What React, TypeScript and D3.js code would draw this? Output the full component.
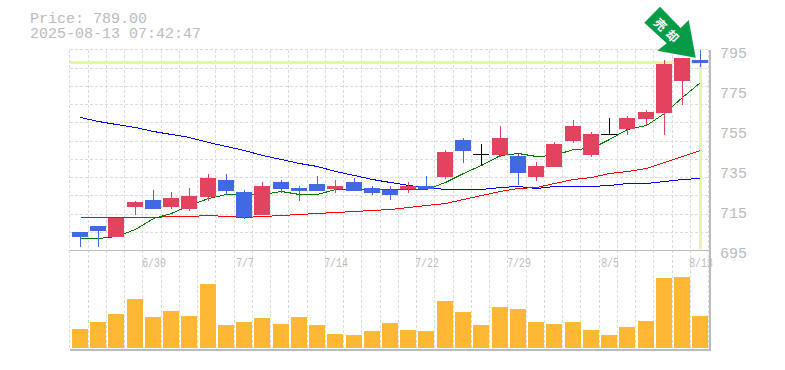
import React from "react";
import * as d3 from "d3";

const priceTicks = [795, 775, 755, 735, 715, 695];
const dateLabels: [number, string][] = [[4, "6/30"], [9, "7/7"], [14, "7/14"], [19, "7/22"], [24, "7/29"], [29, "8/5"], [34, "8/13"]];
const opens = [704.25,707.25,701.75,716.75,720.25,716.75,715.75,721.75,730.25,724.25,712.75,729.25,726.25,728.25,725.75,729.25,726.25,725.25,725.75,727.25,731.75,750.25,743.25,742.75,742.25,731.75,736.75,749.75,742.75,753.25,755.75,760.75,763.75,779.75,790.25];
const closes = [701.75,704.75,711.4,719.25,715.75,721.25,722.25,731.25,724.75,711.6,727.25,725.75,724.75,724.75,727.25,724.75,723.75,722.75,727.25,725.75,744.25,744.75,743.25,751.25,733.75,737.25,748.25,757.25,753.25,753.25,761.25,764.25,788.25,791.25,788.75];
const highs = [704.25,707.25,711.4,719.75,725.25,724.25,726.25,733.25,733.25,725.25,729.25,730.25,727.25,732.25,730.25,731.25,727.25,727.25,729.25,732.25,745.25,751.25,748.25,757.25,743.25,739.25,749.25,760.25,754.25,761.25,762.25,765.25,790.25,791.25,795.25];
const lows = [696.9,696.9,701.75,712.75,715.75,715.75,714.75,719.75,722.75,710.75,712.75,723.75,719.75,724.75,723.75,724.75,722.75,720.25,723.75,725.75,730.75,738.75,737.75,741.75,727.75,729.75,736.75,748.75,741.75,753.25,752.75,757.75,752.75,767.75,786.75];
const volumes = [19,26,34,49,31,37,32,64,23,26,30,24,31,23,14,13,17,25,18,17,47,36,23,41,39,26,24,26,18,13,21,27,70,71,32];
const maShort = [701.1,701.1,702.4,705.75,711.25,713.9,717.75,721.4,723.1,723.1,723.25,724.75,723.25,723.1,725.75,725.6,725.75,725.75,725.75,725.75,729.4,733.75,737.75,742.75,743.6,742.25,742.75,745.6,746.25,750.75,755.75,757.75,763.75,771.75,779.25];
const maMid = [711.6,711.6,711.6,711.6,711.6,712.1,712.1,712.6,712.1,711.6,712.1,712.6,713.1,713.6,714.1,714.6,715.1,715.6,716.6,717.75,718.75,720.6,722.75,724.75,726.25,726.9,728.9,730.75,731.9,733.75,734.9,736.4,739.1,742.4,745.1];
const maLong = [761.6,760,758.5,756.75,755,753.25,751.75,749.25,747.25,745.1,742.75,740.5,739,737.25,734.75,732.75,731,729.5,727.75,726.75,725.75,725.6,725.6,726.6,727.1,726.4,727.1,727.1,727.4,727.9,728.6,728.6,729.75,730.75,731.1];
const titleLines = ["Price: 789.00", "2025-08-13 07:42:47"];
const badgeText = "売却";

const RED = "#e2445f", BLUE = "#4169e1", GREY = "#bbbbbb", GRID = "#dcdcdc", PALE = "#e4f6a9", ORANGE = "#ffb833", ARROW = "#079b48";
const MONO = "'Liberation Mono', monospace";

const y = d3.scaleLinear().domain([695, 795]).range([250.5, 50.5]);
const vol = d3.scaleLinear().domain([0, 100]).range([348, 248]);
const left = d3.scaleLinear().domain([0, 35]).range([72.25, 72.25 + 18.25 * 35]);
const barLeft = (i: number) => Math.floor(left(i));
const centre = (i: number) => barLeft(i) + 8.5;
const gridXs = d3.range(0, 36).map((i) => Math.floor(69.75 + 18.25 * i) + 0.5);
const gridYs = d3.range(0, 11).map((i) => Math.floor(49.9 + 18.25 * i) + 0.5);

const maPath = d3.line<number>().x((_, i) => centre(i)).y((d) => Math.round(y(d)) + 0.5);

export default function App() {
  return (
    <svg width={785} height={370} style={{ position: "absolute", left: 0, top: 0, background: "#fff" }}>
      <g stroke={GRID} strokeWidth={1} strokeDasharray="3 2" shapeRendering="crispEdges">
        {gridYs.map((v) => <line key={v} x1={70} x2={710} y1={v} y2={v} />)}
        {gridXs.map((v) => <line key={v} x1={v} x2={v} y1={50} y2={350} />)}
      </g>
      <g shapeRendering="crispEdges">
        <rect x={70} y={61} width={632} height={3} fill={PALE} />
        <rect x={699} y={61} width={3} height={188} fill={PALE} />
        <rect x={70} y={250} width={640} height={1} fill={GREY} />
        <rect x={70} y={349} width={640} height={2} fill={GREY} />
        <rect x={709} y={50} width={1.5} height={301} fill={GREY} />
      </g>
      <g fill="none" strokeWidth={1} shapeRendering="crispEdges">
        <path d={maPath(maLong) ?? ""} stroke="#0000ff" />
        <path d={maPath(maMid) ?? ""} stroke="#ff0000" />
        <path d={maPath(maShort) ?? ""} stroke="#007a00" />
      </g>
      <g shapeRendering="crispEdges">
        {opens.map((o, i) => {
          const c = closes[i];
          const color = c > o ? RED : c < o ? BLUE : "#000000";
          const top = Math.round(y(Math.max(o, c)));
          const bottom = Math.round(y(Math.min(o, c)));
          const hi = Math.round(y(highs[i]));
          const lo = Math.round(y(lows[i]));
          return (
            <g key={i} fill={color}>
              <rect x={barLeft(i) + 8} y={hi} width={1} height={lo - hi} />
              <rect x={barLeft(i)} y={top} width={16} height={Math.max(1, bottom - top)} />
            </g>
          );
        })}
        {volumes.map((v, i) => (
          <rect key={i} x={barLeft(i)} y={vol(v)} width={16} height={vol(0) - vol(v)} fill={ORANGE} />
        ))}
      </g>
      <polygon points="660,6.7 644.3,22.7 666.7,43.3 657.3,50.7 695.7,57.7 688.7,20 680.7,28" fill={ARROW} />
      <g fill="#fff" fontFamily="'Noto Sans CJK JP'" fontWeight={700} fontSize={12} textAnchor="middle">
        <text transform="translate(660.5,24.5) rotate(45)" dy="4.5">{badgeText[0]}</text>
        <text transform="translate(672.5,36) rotate(45)" dy="4.5">{badgeText[1]}</text>
      </g>
      <g fill={GREY} fontFamily={MONO} fontSize={15}>
        <text x={30} y={23}>{titleLines[0]}</text>
        <text x={30} y={38}>{titleLines[1]}</text>
        {priceTicks.map((p) => (
          <text key={p} x={720} y={Math.round(y(p)) + 7}>{p}</text>
        ))}
      </g>
      <g fill={GREY} fontFamily={MONO} fontSize={12} textAnchor="middle">
        {dateLabels.map(([i, s]) => (
          <text key={s} x={centre(i) + 0.5} y={266.5} textLength={s.length * 5.9} lengthAdjust="spacingAndGlyphs">{s}</text>
        ))}
      </g>
    </svg>
  );
}
